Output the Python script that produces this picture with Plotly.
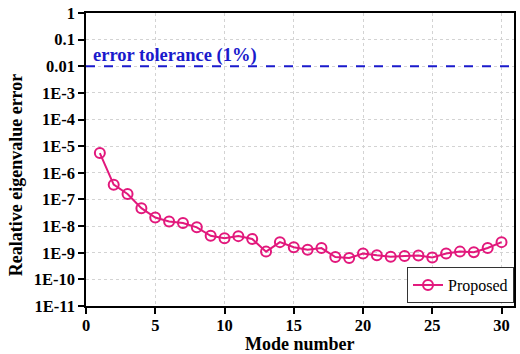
import plotly.graph_objects as go

modes = list(range(1, 31))
errors = [5.5e-6, 3.6e-7, 1.6e-7, 4.7e-8, 2.1e-8, 1.5e-8, 1.3e-8, 9.0e-9, 4.3e-9, 3.5e-9,
          4.2e-9, 3.3e-9, 1.1e-9, 2.5e-9, 1.6e-9, 1.3e-9, 1.5e-9, 6.9e-10, 6.3e-10, 9.3e-10,
          8.0e-10, 7.1e-10, 7.5e-10, 7.8e-10, 6.6e-10, 9.3e-10, 1.1e-9, 1.05e-9, 1.5e-9, 2.5e-9]
tolerance = 0.01
ytick_vals = [1e-11, 1e-10, 1e-9, 1e-8, 1e-7, 1e-6, 1e-5, 1e-4, 1e-3, 1e-2, 1e-1, 1]
ytick_text = ["1E-11", "1E-10", "1E-9", "1E-8", "1E-7", "1E-6", "1E-5", "1E-4", "1E-3", "0.01", "0.1", "1"]
xtick_vals = [0, 5, 10, 15, 20, 25, 30]

FONT = "Liberation Serif, Times New Roman, serif"
PINK = "#E2187C"
BLUE = "#1A1ACC"

fig = go.Figure()
fig.add_trace(go.Scatter(
    x=modes, y=errors, mode="lines+markers", name="Proposed",
    line=dict(color=PINK, width=2),
    marker=dict(symbol="circle-open", size=10, color=PINK, line=dict(width=2, color=PINK)),
))
fig.add_trace(go.Scatter(
    x=[0, 31], y=[tolerance, tolerance], mode="lines", showlegend=False,
    line=dict(color=BLUE, width=2, dash="dash"), hoverinfo="skip",
))
fig.add_annotation(x=0.35, y=-2, xref="x", yref="y", text="<b>error tolerance (1%)</b>",
                   showarrow=False, xanchor="left", yanchor="bottom", yshift=-2,
                   font=dict(family=FONT, size=18.5, color=BLUE))
fig.add_annotation(x=-70 / 430, y=(306 - 175) / 293, xref="paper", yref="paper",
                   text="<b>Realative eigenvalue error</b>",
                   showarrow=False, textangle=-90, xanchor="center", yanchor="middle",
                   font=dict(family=FONT, size=18, color="black"))
fig.add_annotation(x=0.5, y=0, xref="paper", yref="paper", text="<b>Mode number</b>",
                   showarrow=False, xanchor="center", yanchor="middle", yshift=-38,
                   font=dict(family=FONT, size=18, color="black"))

axis_common = dict(
    showline=True, linecolor="black", linewidth=1.5, mirror=True,
    ticks="outside", tickcolor="black", ticklen=6, tickwidth=1.5,
    showgrid=True, gridcolor="#D3D3D3", griddash="dot", gridwidth=1,
    zeroline=False,
    tickfont=dict(family=FONT, size=16.5, color="black"),
)
fig.update_xaxes(range=[0, 30.9], tickvals=xtick_vals,
                 ticktext=[f"<b>{v}</b>" for v in xtick_vals],
                 ticklabelstandoff=-3, **axis_common)
fig.update_yaxes(type="log", range=[-11, 0], tickvals=ytick_vals,
                 ticktext=[f"<b>{t}</b>" for t in ytick_text], **axis_common)

fig.update_layout(
    width=520, height=354,
    margin=dict(l=86, r=4, t=13, b=48),
    plot_bgcolor="white", paper_bgcolor="white",
    showlegend=True,
    legend=dict(x=1.0, y=0.01, xanchor="right", yanchor="bottom",
                bordercolor="#333333", borderwidth=1, bgcolor="white",
                font=dict(family=FONT, size=16, color="black"),
                tracegroupgap=0),
)

fig.write_html("out.html")
